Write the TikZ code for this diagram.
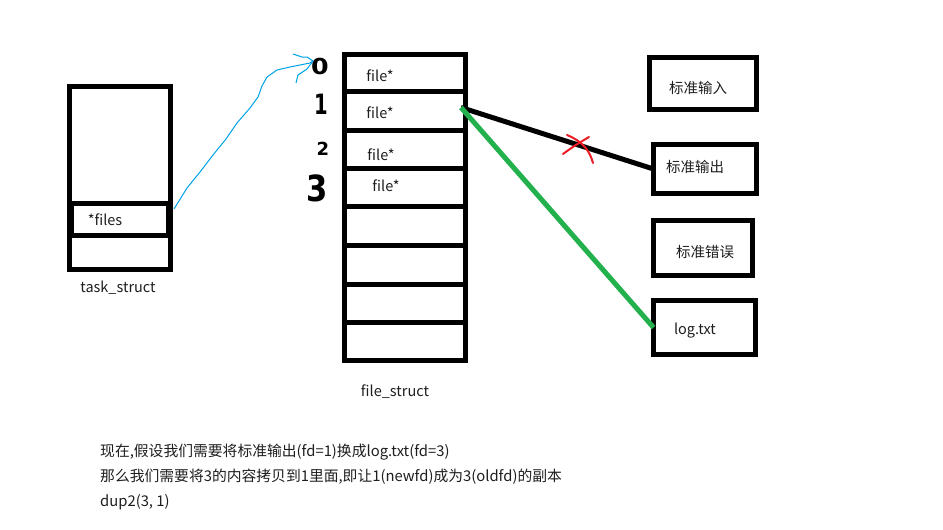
\documentclass[tikz,border=0pt]{standalone}
\usepackage{fontspec}
\setmainfont{Noto Sans CJK SC}
\newfontfamily\digitfont{DejaVu Sans}
\definecolor{txtgray}{HTML}{1E1E1E}
\definecolor{pgreen}{HTML}{22B14C}
\definecolor{pred}{HTML}{ED1C24}
\definecolor{pblue}{HTML}{00A2E8}
\begin{document}
\begin{tikzpicture}[x=1pt,y=-1pt,
  box/.style={draw=black, line width=5pt, inner sep=0pt, outer sep=0pt},
  lbl/.style={font=\fontsize{14.5}{17}\selectfont, text=txtgray, inner sep=0pt},
  para/.style={font=\fontsize{14.8}{17}\selectfont, text=txtgray, inner sep=0pt, anchor=west},
  digit/.style={text=black, inner sep=0pt},
  connector/.style={line width=5pt},
]
\useasboundingbox (0,0) rectangle (943,530);
% task_struct
\node[box, minimum width=101pt, minimum height=183pt] (task) at (120,178) {};
\node[box, minimum width=97pt, minimum height=32.5pt] (files) at (120,219.25) {};
\node[lbl] (filestxt) at (105,220) {*files};
\node[lbl] (tasklbl) at (118,288) {task\_struct};
% file_struct rows
\node[box, minimum width=121pt, minimum height=36.5pt] (r0) at (404.5,72.75) {};
\node[box, minimum width=121pt, minimum height=39pt] (r1) at (404.5,110.5) {};
\node[box, minimum width=121pt, minimum height=38pt] (r2) at (404.5,149) {};
\node[box, minimum width=121pt, minimum height=38pt] (r3) at (404.5,187) {};
\node[box, minimum width=121pt, minimum height=39pt] (r4) at (405,225.5) {};
\node[box, minimum width=121pt, minimum height=39pt] (r5) at (405,264.5) {};
\node[box, minimum width=121pt, minimum height=38pt] (r6) at (405,303) {};
\node[box, minimum width=121pt, minimum height=38.5pt] (r7) at (405,341.25) {};
\node[lbl] (t0) at (380,76) {file*};
\node[lbl] (t1) at (380,113) {file*};
\node[lbl] (t2) at (381,155) {file*};
\node[lbl] (t3) at (386,186) {file*};
\node[lbl] (fslbl) at (395,392) {file\_struct};
% indices
\node[digit, font=\digitfont\bfseries\fontsize{22}{23}\selectfont, xscale=1.15] (d0) at (320,66) {0};
\node[digit, font=\digitfont\bfseries\fontsize{28}{29}\selectfont, xscale=0.7] (d1) at (321,104) {1};
\node[digit, font=\digitfont\bfseries\fontsize{18}{19}\selectfont] (d2) at (323,149) {2};
\node[digit, font=\digitfont\bfseries\fontsize{36}{37}\selectfont, xscale=0.85] (d3) at (317,188) {3};
% right boxes
\node[box, minimum width=107pt, minimum height=52pt] (stdin) at (703,83.5) {};
\node[box, minimum width=103pt, minimum height=49pt] (stdout) at (705,169) {};
\node[box, minimum width=99pt, minimum height=55pt] (stderr) at (703,248) {};
\node[box, minimum width=102pt, minimum height=54pt] (logtxt) at (704.5,327.5) {};
\node[lbl] (tin) at (698,88) {标准输入};
\node[lbl] (tout) at (695,167) {标准输出};
\node[lbl] (terr) at (705,252) {标准错误};
\node[lbl] (tlog) at (695,331) {log.txt};
% connectors
\coordinate (fdstart) at ([xshift=-4pt,yshift=3pt]r1.east);
\draw[connector] (fdstart) -- (stdout.west);
\draw[connector, pgreen] (fdstart) -- (logtxt.west);
% red cross
\draw[pred, line width=2pt, line cap=round] (563,154) .. controls (574,146) .. (589,137);
\draw[pred, line width=2pt, line cap=round] (567,135) .. controls (584,142) and (590,152) .. (593,163);
% blue pointer
\coordinate (bstart) at (174,209);
\coordinate (bend) at (313,61);
\draw[pblue, line width=1pt, line join=round] (bstart) -- (187,188) -- (200,172) -- (213,155) -- (226,139) -- (237,123) -- (250,108) -- (258,97) -- (262,86) -- (267,77) -- (277,70) -- (290,67) -- (300,65) -- (310,63) -- (bend);
\draw[pblue, line width=1pt, line join=round] (bend) -- (307,57) -- (302,57) -- (293,54);
\draw[pblue, line width=1pt, line join=round] (bend) -- (307,69) -- (298,75) -- (296,83);
% explanation text
\node[para] (l1) at (100,452) {现在,假设我们需要将标准输出(fd=1)换成log.txt(fd=3)};
\node[para] (l2) at (100,477) {那么我们需要将3的内容拷贝到1里面,即让1(newfd)成为3(oldfd)的副本};
\node[para] (l3) at (100,502) {dup2(3, 1)};
\end{tikzpicture}
\end{document}
